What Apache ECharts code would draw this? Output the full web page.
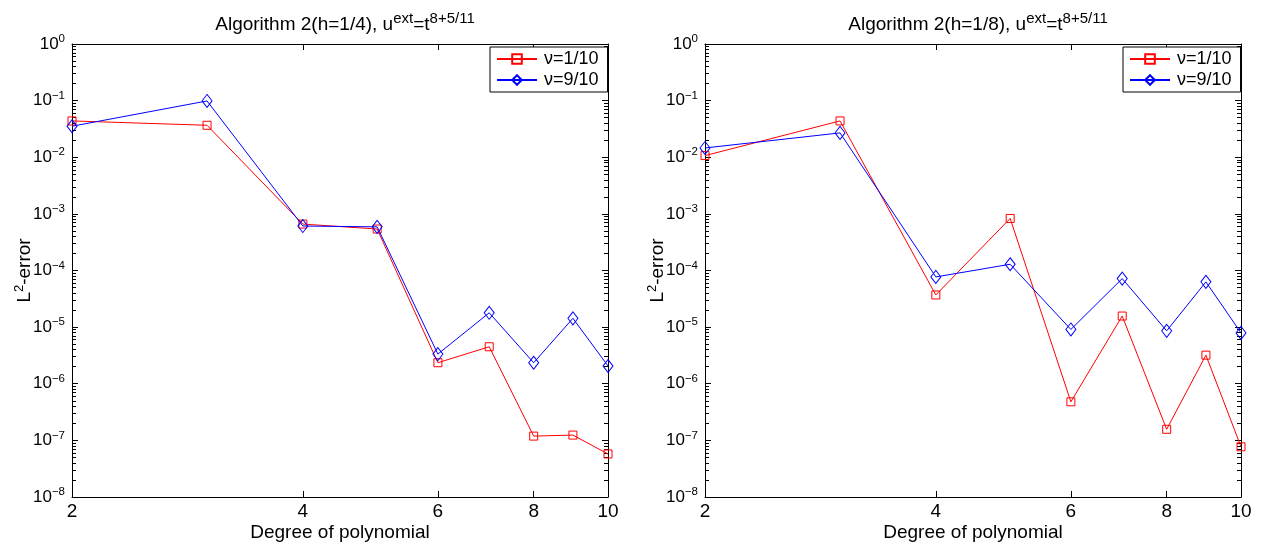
<!DOCTYPE html>
<html><head><meta charset="utf-8">
<script src="https://cdn.jsdelivr.net/npm/echarts@6/dist/echarts.min.js"></script>
<style>html,body{margin:0;padding:0;background:#fff}#c{width:1262px;height:547px}</style>
</head><body><div id="c"></div>
<script>
// ---- data ----
const degrees = [2, 3, 4, 5, 6, 7, 8, 9, 10];
const leftNu1  = [0.0438, 0.0367, 6.6e-4, 5.4e-4, 2.35e-6, 4.5e-6, 1.19e-7, 1.24e-7, 5.75e-8];
const leftNu9  = [0.0353, 0.0987, 6.1e-4, 5.9e-4, 3.34e-6, 1.79e-5, 2.35e-6, 1.43e-5, 2.06e-6];
const rightNu1 = [0.0107, 0.0438, 3.7e-5, 8.3e-4, 4.8e-7, 1.57e-5, 1.57e-7, 3.2e-6, 7.7e-8];
const rightNu9 = [0.0146, 0.0269, 7.7e-5, 1.29e-4, 9.1e-6, 7.2e-5, 8.6e-6, 6.3e-5, 7.9e-6];
const xTicks = [2, 4, 6, 8, 10];
const yTicks = [1e-8, 1e-7, 1e-6, 1e-5, 1e-4, 1e-3, 1e-2, 1e-1, 1];
const seriesNames = ['ν=1/10', 'ν=9/10'];
const titles = ['Algorithm 2(h=1/4), u{s|ext}=t{s|8+5/11}', 'Algorithm 2(h=1/8), u{s|ext}=t{s|8+5/11}'];
const xName = 'Degree of polynomial';
const yName = 'L{s|2}-error';

const yMinor = [];
for (let k = -8; k < 0; k++) for (let m = 2; m <= 9; m++) yMinor.push(+(m * Math.pow(10, k)).toPrecision(3));

const FONT = '"Liberation Sans", Arial, Helvetica, sans-serif';
const chart = echarts.init(document.getElementById('c'), null, {renderer: 'canvas'});

function supFmt(v) {
  const e = Math.round(Math.log10(v));
  return '{b|10}{s|' + (e < 0 ? '−' + (-e) : String(e)) + '}';
}
const grids = [
  {left: 72, top: 44, width: 536, height: 453},
  {left: 705, top: 44, width: 536, height: 453}
];
const black = {color: '#000', width: 1};
const xAxis = [], yAxis = [], series = [], title = [], legend = [];
grids.forEach((g, gi) => {
  xAxis.push({
    type: 'log', gridIndex: gi, min: 2, max: 10, position: 'bottom',
    axisLine: {onZero: false, lineStyle: black},
    axisTick: {inside: true, length: 6, customValues: xTicks, lineStyle: black},
    axisLabel: {customValues: xTicks, color: '#000', fontSize: 19, fontFamily: FONT, margin: 5, showMinLabel: true, showMaxLabel: true},
    splitLine: {show: false}, minorTick: {show: false},
    name: xName, nameLocation: 'middle', nameGap: 26, nameMoveOverlap: false,
    nameTextStyle: {color: '#000', fontSize: 19, fontFamily: FONT}
  });
  xAxis.push({
    type: 'log', gridIndex: gi, min: 2, max: 10, position: 'top',
    axisLine: {onZero: false, lineStyle: black},
    axisTick: {inside: true, length: 6, customValues: xTicks, lineStyle: black},
    axisLabel: {show: false}, splitLine: {show: false}
  });
  const yBase = {
    type: 'log', gridIndex: gi, min: 1e-8, max: 1, logBase: 10,
    axisLine: {onZero: false, lineStyle: black}, splitLine: {show: false}
  };
  yAxis.push(Object.assign({}, yBase, {
    position: 'left',
    axisTick: {inside: true, length: 6, customValues: yTicks, lineStyle: black},
    axisLabel: {customValues: yTicks, formatter: supFmt, margin: 7, color: '#000', fontFamily: FONT,
      rich: {b: {fontSize: 17, fontFamily: FONT, color: '#000'}, s: {fontSize: 11.5, fontFamily: FONT, color: '#000', verticalAlign: 'top', padding: [0, 0, 10, 0]}}},
    name: yName, nameLocation: 'middle', nameGap: 36, nameRotate: 90, nameMoveOverlap: false,
    nameTextStyle: {color: '#000', fontSize: 19, fontFamily: FONT,
      rich: {s: {fontSize: 13, fontFamily: FONT, color: '#000', padding: [0, 0, 10, 0]}}}
  }));
  yAxis.push(Object.assign({}, yBase, {
    position: 'right',
    axisTick: {inside: true, length: 6, customValues: yTicks, lineStyle: black},
    axisLabel: {show: false}
  }));
  yAxis.push(Object.assign({}, yBase, {
    position: 'left', axisLine: {show: false},
    axisTick: {inside: true, length: 4, customValues: yMinor, lineStyle: black},
    axisLabel: {show: false}
  }));
  yAxis.push(Object.assign({}, yBase, {
    position: 'right', axisLine: {show: false},
    axisTick: {inside: true, length: 4, customValues: yMinor, lineStyle: black},
    axisLabel: {show: false}
  }));
  const vals = gi === 0 ? [leftNu1, leftNu9] : [rightNu1, rightNu9];
  const cols = ['#ff0000', '#0000ff'];
  const syms = ['rect', 'diamond'];
  const sizes = [[8, 8], [10, 13]];
  vals.forEach((arr, si) => {
    series.push({
      type: 'line', name: seriesNames[si], xAxisIndex: gi * 2, yAxisIndex: gi * 4,
      data: degrees.map((d, i) => [d, arr[i]]),
      symbol: syms[si], symbolSize: sizes[si], showAllSymbol: true,
      lineStyle: {color: cols[si], width: 1},
      itemStyle: {color: 'rgba(255,255,255,0)', borderColor: cols[si], borderWidth: 1},
      emphasis: {disabled: true}, animation: false, z: 3 + si
    });
  });
  title.push({
    text: titles[gi], left: g.left + g.width / 2, top: 6, textAlign: 'center',
    textStyle: {color: '#000', fontSize: 19, fontWeight: 'normal', fontFamily: FONT,
      rich: {s: {fontSize: 15, fontFamily: FONT, color: '#000', padding: [0, 0, 12, 0]}}}
  });
  legend.push({
    data: seriesNames, orient: 'vertical', left: g.left + g.width - 118, top: 47,
    borderColor: '#000', borderWidth: 1, backgroundColor: '#fff', padding: [3, 9, 3, 6],
    itemGap: 3, itemWidth: 40, itemHeight: 12,
    textStyle: {color: '#000', fontSize: 18, fontFamily: FONT, padding: [0, 0, 0, 2]},
    selectedMode: false
  });
});

chart.setOption({
  animation: false,
  backgroundColor: '#fff',
  title, legend, grid: grids, xAxis, yAxis, series
});
</script></body></html>
